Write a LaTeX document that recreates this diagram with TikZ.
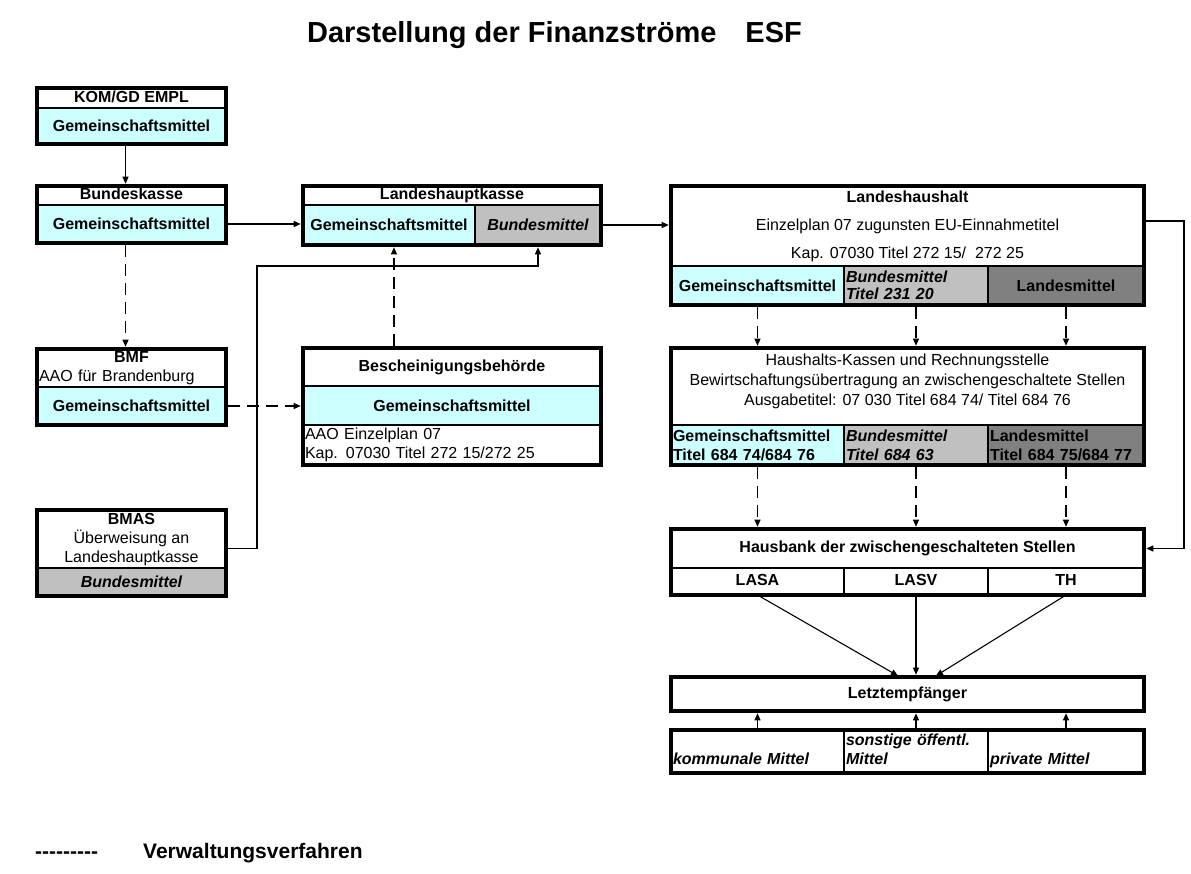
\documentclass[tikz,border=0pt]{standalone}
\usepackage{fontspec}
\setmainfont{Liberation Sans}
\usetikzlibrary{arrows.meta}

\definecolor{gmcyan}{HTML}{CCFFFF}
\definecolor{bmgrey}{HTML}{C0C0C0}
\definecolor{lmgrey}{HTML}{808080}
\newcommand{\boxfont}{\fontsize{16}{19}\selectfont}

\begin{document}
\begin{tikzpicture}[x=1pt, y=-1pt,
    cell/.style={draw, line width=2.4pt, outer sep=0pt, inner sep=2pt,
      align=center, font=\boxfont\bfseries},
    one/.style={text height=11.5pt, text depth=3.5pt},
    plain/.style={cell, font=\boxfont},
    gm/.style={cell, fill=gmcyan},
    bm/.style={cell, fill=bmgrey, font=\boxfont\bfseries\itshape},
    lm/.style={cell, fill=lmgrey},
    frame/.style={line width=4.5pt},
    flow/.style={line width=1.1pt, shorten <=2.3pt, shorten >=2.3pt,
      -{Triangle[length=7pt,width=6pt]}},
    admin/.style={flow, dash pattern=on 12pt off 7pt}]
\useasboundingbox (0,0) rectangle (1191,873);

\node[font=\fontsize{29}{34}\selectfont\bfseries, anchor=base] (title) at (554.5,42)
  {Darstellung der Finanzströme\hspace{29pt}ESF};

% left column
\node[cell, one, minimum width=189pt, minimum height=20pt] (kom) at (131.5,98) {KOM/GD EMPL};
\node[gm, minimum width=189pt, minimum height=36pt] (kom-gm) at (131.5,126) {Gemeinschaftsmittel};

\node[cell, one, minimum width=189pt, minimum height=19pt] (bk) at (131.5,195.5) {Bundeskasse};
\node[gm, minimum width=189pt, minimum height=38pt] (bk-gm) at (131.5,224) {Gemeinschaftsmittel};

\node[plain, minimum width=189pt, minimum height=39pt, text width=185pt, align=left] (bmf)
  at (131.5,368.5) {\makebox[185pt]{\bfseries BMF}\\AAO für Brandenburg};
\node[gm, minimum width=189pt, minimum height=38pt] (bmf-gm) at (131.5,406) {Gemeinschaftsmittel};

\node[plain, minimum width=189pt, minimum height=59pt] (bmas) at (131.5,539.5)
  {\textbf{BMAS}\\Überweisung an\\Landeshauptkasse};
\node[bm, minimum width=189pt, minimum height=28pt] (bmas-bm) at (131.5,582) {Bundesmittel};

% middle column
\node[cell, one, minimum width=298pt, minimum height=19pt] (lhk) at (452,195.5) {Landeshauptkasse};
\node[gm, minimum width=172pt, minimum height=40pt] (lhk-gm) at (389,225) {Gemeinschaftsmittel};
\node[bm, minimum width=126pt, minimum height=40pt] (lhk-bm) at (538,225) {Bundesmittel};

\node[cell, minimum width=298pt, minimum height=38pt] (be) at (452,367) {Bescheinigungsbehörde};
\node[gm, minimum width=298pt, minimum height=39pt] (be-gm) at (452,405.5) {Gemeinschaftsmittel};
\node[plain, minimum width=298pt, minimum height=40pt, text width=294pt, align=left] (be-note)
  at (452,445) {AAO Einzelplan 07\\Kap. 07030 Titel 272 15/272 25};

% right column
\node[plain, minimum width=473pt, minimum height=80pt] (lh) at (907.5,226)
  {\textbf{Landeshaushalt}\\[9pt]Einzelplan 07 zugunsten EU-Einnahmetitel\\[9pt]Kap. 07030 Titel 272 15/\ \ 272 25};
\node[gm, minimum width=173pt, minimum height=39pt] (lh-gm) at (757.5,285.5) {Gemeinschaftsmittel};
\node[bm, minimum width=144pt, minimum height=39pt, text width=140pt, align=left] (lh-bm)
  at (916,285.5) {Bundesmittel\\[-2pt]Titel 231 20};
\node[lm, minimum width=156pt, minimum height=39pt] (lh-lm) at (1066,285.5) {Landesmittel};

\node[plain, minimum width=473pt, minimum height=77pt] (hk) at (907.5,386.5) {};
\node[font=\boxfont, align=center, inner sep=0pt, anchor=north] (hk-text) at ([yshift=-5.5pt]hk.north)
  {Haushalts-Kassen und Rechnungsstelle\\[1.5pt]Bewirtschaftungsübertragung an zwischengeschaltete Stellen\\[1pt]Ausgabetitel: 07 030 Titel 684 74/ Titel 684 76};
\node[gm, minimum width=173pt, minimum height=40pt, text width=169pt, align=left] (hk-gm)
  at (757.5,445) {Gemeinschaftsmittel\\Titel 684 74/684 76};
\node[bm, minimum width=144pt, minimum height=40pt, text width=140pt, align=left] (hk-bm)
  at (916,445) {Bundesmittel\\Titel 684 63};
\node[lm, minimum width=156pt, minimum height=40pt, text width=152pt, align=left] (hk-lm)
  at (1066,445) {Landesmittel\\Titel 684 75/684 77};

\node[cell, one, minimum width=473pt, minimum height=39pt] (hb) at (907.5,548.5) {Hausbank der zwischengeschalteten Stellen};
\node[cell, one, minimum width=173pt, minimum height=27pt] (hb-lasa) at (757.5,581.5) {LASA};
\node[cell, one, minimum width=144pt, minimum height=27pt] (hb-lasv) at (916,581.5) {LASV};
\node[cell, one, minimum width=156pt, minimum height=27pt] (hb-th) at (1066,581.5) {TH};

\node[cell, one, minimum width=473pt, minimum height=34pt] (le) at (907.5,694) {Letztempfänger};

\node[cell, font=\boxfont\bfseries\itshape, minimum width=173pt, minimum height=43pt, text width=169pt, align=left]
  (lo-km) at (757.5,751.5) {\strut\\kommunale Mittel\strut};
\node[cell, font=\boxfont\bfseries\itshape, minimum width=144pt, minimum height=43pt, text width=140pt, align=left]
  (lo-so) at (916,751.5) {\strut sonstige öffentl.\\Mittel\strut};
\node[cell, font=\boxfont\bfseries\itshape, minimum width=156pt, minimum height=43pt, text width=152pt, align=left]
  (lo-pm) at (1066,751.5) {\strut\\private Mittel\strut};

% thick outer frames
\foreach \a/\b in {kom/kom-gm, bk/bk-gm, bmf/bmf-gm, bmas/bmas-bm, lhk/lhk-bm, be/be-note,
                   lh/lh-lm, hk/hk-lm, hb/hb-th, le/le, lo-km/lo-pm}
  \draw[frame] (\a.north west) rectangle (\b.south east);

% money flows
\draw[flow] ([xshift=-6pt]kom-gm.south) -- ([xshift=-6pt]bk.north);
\draw[flow] (bk-gm.east) -- (bk-gm.east -| lhk-gm.west);
\coordinate (bmas-jog) at (257,266);
\draw[flow] ([yshift=-9pt]bmas.east) -| (bmas-jog) -| (lhk-bm.south);
\draw[flow] (lhk-bm.east) -- (lhk-bm.east -| lh.west);
\draw[flow] ([yshift=5pt]lh.east) -- ++(40,0) |- (hb.east);
\draw[flow] (hb-lasa.south) -- ([xshift=-16pt]hb-lasv.south |- le.north);
\draw[flow] (hb-lasv.south) -- (hb-lasv.south |- le.north);
\draw[flow] (hb-th.south) -- ([xshift=18pt]hb-lasv.south |- le.north);
\foreach \c in {km,so,pm}
  \draw[flow] (lo-\c.north) -- (lo-\c.north |- le.south);

% administrative procedure
\draw[admin] ([xshift=-6pt]bk-gm.south) -- ([xshift=-6pt]bmf.north);
\draw[admin] (bmf-gm.east) -- (bmf-gm.east -| be-gm.west);
\draw[admin] ([xshift=5pt]be.north -| lhk-gm.south) -- ([xshift=5pt]lhk-gm.south);
\foreach \c in {gm,bm,lm} {
  \draw[admin] (lh-\c.south) -- (lh-\c.south |- hk.north);
  \draw[admin] (hk-\c.south) -- (hk-\c.south |- hb.north);
}

% legend
\node[font=\fontsize{21}{25}\selectfont\bfseries, inner sep=0pt, anchor=base west] (legend-dash) at (35,858)
  {\mbox{-}\mbox{-}\mbox{-}\mbox{-}\mbox{-}\mbox{-}\mbox{-}\mbox{-}\mbox{-}};
\node[font=\fontsize{21}{25}\selectfont\bfseries, inner sep=0pt, anchor=base west] (legend-text) at (143,858)
  {Verwaltungsverfahren};

\end{tikzpicture}
\end{document}
